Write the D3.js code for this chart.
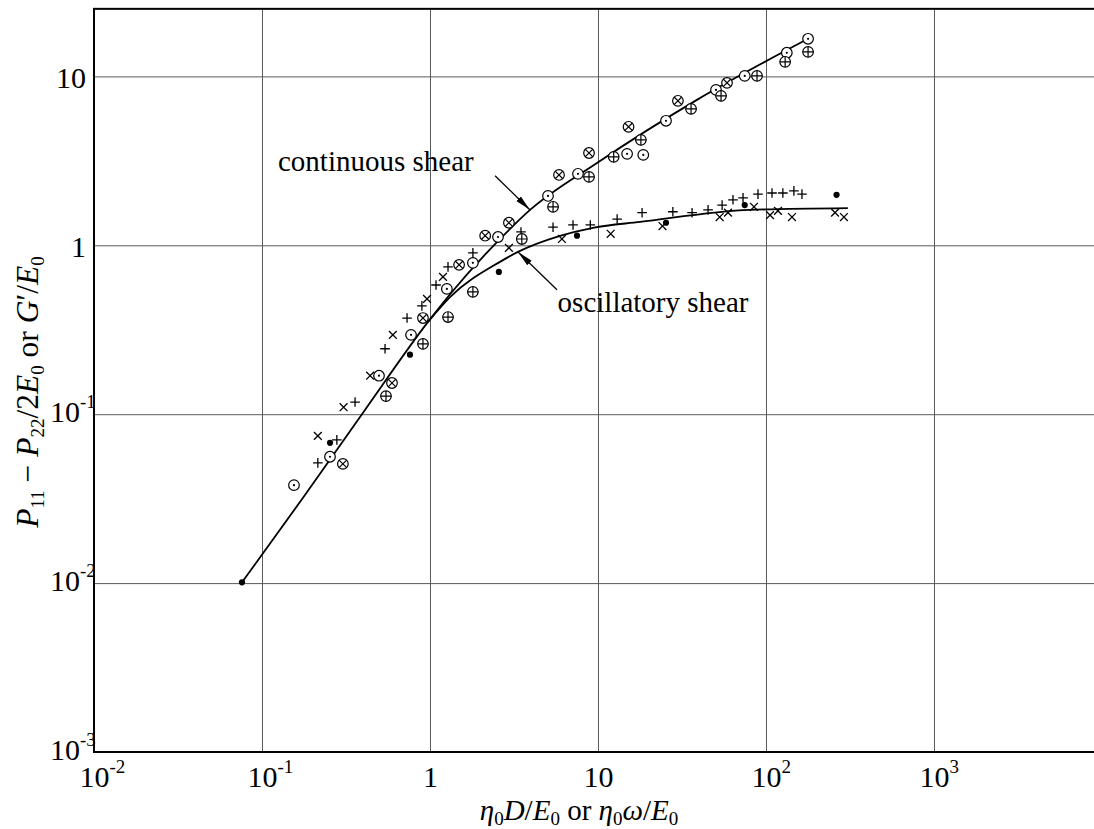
<!DOCTYPE html>
<html>
<head>
<meta charset="utf-8">
<script src="https://cdn.jsdelivr.net/npm/d3@7"></script>
<style>
  html, body { margin: 0; background: #fff; }
  svg { display: block; }
</style>
</head>
<body>
<svg id="chart" width="1094" height="829"></svg>
<script>
// ---- Measured points: P11-P22/2E0 (continuous shear) and G'/E0 (oscillatory shear)
// circle with centre dot
const odotX = [0.155, 0.254, 0.497, 0.771, 1.26, 1.80, 2.54, 5.04, 7.6, 14.9, 18.6, 25.4, 50.4, 74.7, 133, 178];
const odotY = [0.038, 0.056, 0.169, 0.295, 0.552, 0.787, 1.12, 1.96, 2.65, 3.48, 3.43, 5.46, 8.32, 10.07, 13.8, 16.7];
// circle with diagonal cross
const otimesX = [0.303, 0.594, 0.908, 1.49, 2.13, 2.95, 5.86, 8.84, 15.2, 29.9, 58.6];
const otimesY = [0.0508, 0.153, 0.371, 0.766, 1.14, 1.36, 2.61, 3.52, 5.03, 7.17, 9.16];
// circle with upright cross
const oplusX = [0.547, 0.908, 1.28, 1.80, 3.52, 5.40, 8.84, 12.4, 18.0, 35.8, 54.0, 88.4, 130, 178];
const oplusY = [0.128, 0.261, 0.376, 0.530, 1.09, 1.69, 2.54, 3.34, 4.21, 6.42, 7.67, 10.07, 12.2, 13.97];
// plus signs
const plusX = [0.215, 0.279, 0.358, 0.540, 0.730, 0.895, 1.086, 1.28, 1.80, 3.48, 5.40, 7.10, 9.0, 13.0, 18.3, 27.9, 36.3, 45.2, 54.8, 63.6, 73.0, 89.6, 108.6, 126, 146.6, 163.7];
const plusY = [0.0515, 0.0705, 0.118, 0.244, 0.371, 0.438, 0.582, 0.745, 0.902, 1.20, 1.28, 1.32, 1.32, 1.43, 1.56, 1.58, 1.56, 1.62, 1.73, 1.86, 1.91, 2.01, 2.04, 2.04, 2.10, 2.01];
// diagonal crosses
const crossX = [0.215, 0.306, 0.440, 0.601, 0.96, 1.195, 2.95, 6.1, 11.9, 24.2, 53.0, 59.4, 84.8, 105.7, 117.8, 142.8, 257.6, 291];
const crossY = [0.0744, 0.110, 0.169, 0.295, 0.482, 0.650, 0.966, 1.09, 1.17, 1.30, 1.47, 1.56, 1.69, 1.51, 1.60, 1.47, 1.56, 1.47];
// filled dots
const dotX = [0.076, 0.254, 0.760, 2.57, 7.5, 25.4, 74.7, 263];
const dotY = [0.0101, 0.0677, 0.225, 0.696, 1.14, 1.36, 1.73, 1.99];

// ---- Theoretical curves
const contCurveX = [0.076, 0.175, 0.410, 0.973, 1.32, 2.58, 3.94, 9.86, 38.8, 178];
const contCurveY = [0.0101, 0.0319, 0.106, 0.352, 0.515, 1.077, 1.62, 3.07, 7.26, 16.7];
const oscCurveX = [0.973, 1.32, 2.61, 3.34, 5.94, 9.33, 17.8, 80.3, 307];
const oscCurveY = [0.352, 0.495, 0.798, 0.914, 1.137, 1.27, 1.375, 1.62, 1.66];

// ---- Axis ticks
const xTickVals = [1e-2, 1e-1, 1, 10, 1e2, 1e3];
const xTickBase = ["10", "10", "1", "10", "10", "10"];
const xTickExp  = ["-2", "-1", "", "", "2", "3"];
const yTickVals = [1e-3, 1e-2, 1e-1, 1, 10];
const yTickBase = ["10", "10", "10", "1", "10"];
const yTickExp  = ["-3", "-2", "-1", "", ""];

// ---- Curve labels (anchor point in data units) and arrows
const labelText = ["continuous shear", "oscillatory shear"];
const labelX = [0.1245, 5.75];
const labelY = [2.76, 0.405];
const arrowFromX = [2.44, 5.70];
const arrowFromY = [2.58, 0.545];
const arrowToX = [3.94, 3.34];
const arrowToY = [1.62, 0.914];

// ---- Layout
const FONT = "'Liberation Serif', 'Times New Roman', serif";
const plotLeft = 94, plotRight = 1102, plotBottom = 752, decadeY = 168.9;
const yMaxExp = 1.4;

const svg = d3.select("#chart");
const x = d3.scaleLog().domain([1e-2, 1e4]).range([plotLeft, plotRight]);
const y = d3.scaleLog().domain([1e-3, Math.pow(10, yMaxExp)])
  .range([plotBottom, plotBottom - (yMaxExp + 3) * decadeY]);
const plotTop = y.range()[1];

const defs = svg.append("defs");
defs.append("marker")
  .attr("id", "arrowhead")
  .attr("markerUnits", "userSpaceOnUse")
  .attr("markerWidth", 18).attr("markerHeight", 10)
  .attr("refX", 16).attr("refY", 4)
  .attr("orient", "auto")
  .append("path")
  .attr("d", "M0,0.8 L16,4 L0,7.2 Z")
  .attr("fill", "#000");

// ---- Grid lines via axes
const gx = svg.append("g").attr("transform", `translate(0,${plotBottom})`);
gx.call(d3.axisBottom(x).tickValues(xTickVals).tickSize(-(plotBottom - plotTop)).tickFormat(() => ""));
gx.select(".domain").remove();
gx.selectAll(".tick line").attr("stroke", "#5a5a5a").attr("stroke-width", 1);

const gy = svg.append("g").attr("transform", `translate(${plotLeft},0)`);
gy.call(d3.axisLeft(y).tickValues(yTickVals).tickSize(-(plotRight - plotLeft)).tickFormat(() => ""));
gy.select(".domain").remove();
gy.selectAll(".tick line").attr("stroke", "#5a5a5a").attr("stroke-width", 1);

// ---- Tick labels with superscript exponents
function tickText(sel, txt, px, py, size, anchor) {
  return sel.append("text")
    .attr("x", px).attr("y", py)
    .attr("text-anchor", anchor)
    .attr("font-family", FONT).attr("font-size", size).attr("fill", "#000")
    .text(txt);
}
gx.selectAll(".tick").each(function (d, i) {
  const t = d3.select(this);
  const base = tickText(t, xTickBase[i], 0, 35, 30, "middle");
  if (xTickExp[i]) {
    const w = base.node().getComputedTextLength();
    tickText(t, xTickExp[i], w / 2, 35 - 14, 19, "start");
  }
});
gy.selectAll(".tick").each(function (d, i) {
  const t = d3.select(this);
  if (yTickExp[i]) {
    tickText(t, yTickBase[i], -14, 7, 30, "end");
    tickText(t, yTickExp[i], -14, 7 - 14, 19, "start");
  } else {
    tickText(t, yTickBase[i], -8, 11, 30, "end");
  }
});

// ---- Frame
svg.append("rect")
  .attr("x", plotLeft).attr("y", plotTop)
  .attr("width", plotRight - plotLeft).attr("height", plotBottom - plotTop)
  .attr("fill", "none").attr("stroke", "#000").attr("stroke-width", 2);

// ---- Curves
const line = d3.line().x(d => x(d[0])).y(d => y(d[1])).curve(d3.curveMonotoneX);
svg.append("path")
  .datum(contCurveX.map((v, i) => [v, contCurveY[i]]))
  .attr("d", line).attr("fill", "none").attr("stroke", "#000").attr("stroke-width", 1.8);
svg.append("path")
  .datum(oscCurveX.map((v, i) => [v, oscCurveY[i]]))
  .attr("d", line).attr("fill", "none").attr("stroke", "#000").attr("stroke-width", 1.8);

// ---- Point symbols
const R = 5.3;
function drawSeries(xs, ys, kind) {
  const g = svg.append("g").attr("stroke", "#000").attr("stroke-width", 1.2).attr("fill", "none");
  const pts = g.selectAll("g").data(xs.map((v, i) => [v, ys[i]])).join("g")
    .attr("transform", d => `translate(${x(d[0])},${y(d[1])})`);
  if (kind === "odot" || kind === "otimes" || kind === "oplus") {
    pts.append("circle").attr("r", R).attr("fill", "#fff");
  }
  if (kind === "odot") {
    pts.append("circle").attr("r", 1.1).attr("fill", "#000").attr("stroke", "none");
  }
  if (kind === "otimes") {
    const a = R * 0.72;
    pts.append("path").attr("d", `M${-a},${-a}L${a},${a}M${-a},${a}L${a},${-a}`);
  }
  if (kind === "oplus") {
    pts.append("path").attr("d", `M${-R},0L${R},0M0,${-R}L0,${R}`);
  }
  if (kind === "plus") {
    const a = 4.8;
    pts.append("path").attr("d", `M${-a},0L${a},0M0,${-a}L0,${a}`).attr("stroke-width", 1.3);
  }
  if (kind === "cross") {
    const a = 3.9;
    pts.append("path").attr("d", `M${-a},${-a}L${a},${a}M${-a},${a}L${a},${-a}`).attr("stroke-width", 1.3);
  }
  if (kind === "dot") {
    pts.append("circle").attr("r", 3.1).attr("fill", "#000").attr("stroke", "none");
  }
}
drawSeries(plusX, plusY, "plus");
drawSeries(crossX, crossY, "cross");
drawSeries(odotX, odotY, "odot");
drawSeries(otimesX, otimesY, "otimes");
drawSeries(oplusX, oplusY, "oplus");
drawSeries(dotX, dotY, "dot");

// ---- Curve labels and arrows
labelText.forEach((s, i) => {
  svg.append("text")
    .attr("x", x(labelX[i])).attr("y", y(labelY[i]))
    .attr("font-family", FONT).attr("font-size", 29).attr("fill", "#000")
    .text(s);
  svg.append("line")
    .attr("x1", x(arrowFromX[i])).attr("y1", y(arrowFromY[i]))
    .attr("x2", x(arrowToX[i])).attr("y2", y(arrowToY[i]))
    .attr("stroke", "#000").attr("stroke-width", 1.3)
    .attr("marker-end", "url(#arrowhead)");
});

// ---- Axis titles
function addPart(t, txt, opts) {
  const s = t.append("tspan").text(txt);
  if (opts && opts.it) s.attr("font-style", "italic");
  if (opts && opts.sub) s.attr("font-size", 19).attr("dy", opts.dy);
  else if (opts && opts.dy) s.attr("dy", opts.dy);
  return s;
}
const xTitle = svg.append("text")
  .attr("x", 579).attr("y", 820)
  .attr("text-anchor", "middle")
  .attr("font-family", FONT).attr("font-size", 29).attr("fill", "#000");
addPart(xTitle, "\u03b7", { it: true });
addPart(xTitle, "0", { sub: true, dy: 5 });
addPart(xTitle, "D", { it: true, dy: -5 });
addPart(xTitle, "/");
addPart(xTitle, "E", { it: true });
addPart(xTitle, "0", { sub: true, dy: 5 });
addPart(xTitle, " or ", { dy: -5 });
addPart(xTitle, "\u03b7", { it: true });
addPart(xTitle, "0", { sub: true, dy: 5 });
addPart(xTitle, "\u03c9", { it: true, dy: -5 });
addPart(xTitle, "/");
addPart(xTitle, "E", { it: true });
addPart(xTitle, "0", { sub: true, dy: 5 });

const yTitle = svg.append("text")
  .attr("transform", "translate(38,392) rotate(-90)")
  .attr("text-anchor", "middle")
  .attr("font-family", FONT).attr("font-size", 31.5).attr("fill", "#000");
addPart(yTitle, "P", { it: true });
addPart(yTitle, "11", { sub: true, dy: 6 });
addPart(yTitle, " \u2212 ", { dy: -6 });
addPart(yTitle, "P", { it: true });
addPart(yTitle, "22", { sub: true, dy: 6 });
addPart(yTitle, "/2", { dy: -6 });
addPart(yTitle, "E", { it: true });
addPart(yTitle, "0", { sub: true, dy: 6 });
addPart(yTitle, " or ", { dy: -6 });
addPart(yTitle, "G", { it: true });
addPart(yTitle, "\u2032");
addPart(yTitle, "/");
addPart(yTitle, "E", { it: true });
addPart(yTitle, "0", { sub: true, dy: 6 });
</script>
</body>
</html>
